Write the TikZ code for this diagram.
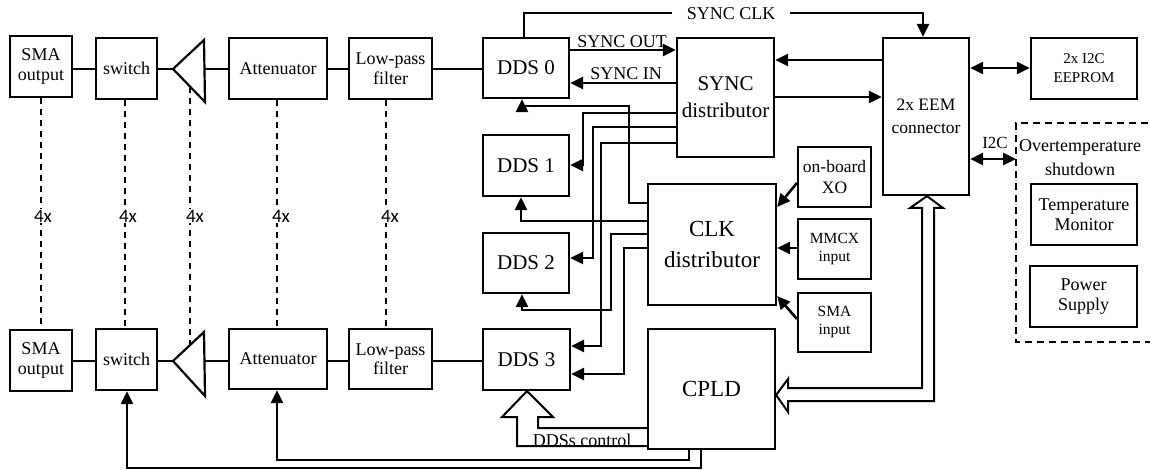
\documentclass[tikz,border=0pt]{standalone}
\usepackage{fontspec}
\setmainfont{Liberation Serif}
\newfontfamily\carlito{Carlito}
\usetikzlibrary{arrows.meta}
\newcommand\fsA{\fontsize{18}{19.5}\selectfont}
\newcommand\fsDDS{\fontsize{21}{25}\selectfont}
\newcommand\fsSync{\fontsize{21}{27}\selectfont}
\newcommand\fsBig{\fontsize{23}{31}\selectfont}
\newcommand\fsEEM{\fontsize{17.5}{23}\selectfont}
\newcommand\fsSmall{\fontsize{15}{19}\selectfont}
\newcommand\fsIn{\fontsize{15.5}{18}\selectfont}
\newcommand\fsXO{\fontsize{17.5}{21}\selectfont}
\newcommand\fsOT{\fontsize{18}{24}\selectfont}
\newcommand\fsTM{\fontsize{18}{20}\selectfont}
\newcommand\fsFour{\carlito\fontsize{19}{21}\selectfont}
\begin{document}
\begin{tikzpicture}[x=1pt,y=-1pt,
  box/.style={draw, line width=2.2pt, inner sep=0pt, align=center, fill=white},
  wire/.style={line width=2.6pt},
  arr/.style={wire, -{Triangle[length=13pt,width=12pt]}},
  darr/.style={wire, {Triangle[length=13pt,width=12pt]}-{Triangle[length=13pt,width=12pt]}},
  bus/.style={line width=2pt, fill=white, line join=miter},
  rep/.style={line width=2.2pt, dash pattern=on 6pt off 5pt},
  lbl/.style={inner sep=1pt, font=\fsA},
  four/.style={fill=white, inner sep=1pt, font=\fsFour}
]
\useasboundingbox (0,0) rectangle (1150,470);

% ---------- top RF chain ----------
\node[box, minimum width=62pt, minimum height=61pt, font=\fsA] (smaT) at (41,66.5) {SMA\\output};
\node[box, minimum width=61pt, minimum height=61pt, font=\fsA] (swT) at (126.5,68.5) {switch};
\coordinate (ampTtip) at (173,69);
\coordinate (ampTback) at (204.5,69);
\draw[line width=2.2pt] (ampTtip) -- (204,40) -- (205,102) -- cycle;
\node[box, minimum width=98pt, minimum height=61pt, font=\fsA] (attT) at (278,68.5) {Attenuator};
\node[box, minimum width=83pt, minimum height=61pt, font=\fsA] (lpfT) at (390.5,68.5) {Low-pass\\filter};

% ---------- bottom RF chain ----------
\node[box, minimum width=62pt, minimum height=61pt, font=\fsA] (smaB) at (41,360.5) {SMA\\output};
\node[box, minimum width=61pt, minimum height=61pt, font=\fsA] (swB) at (126.5,359.5) {switch};
\coordinate (ampBtip) at (173,361);
\coordinate (ampBback) at (204.5,361);
\draw[line width=2.2pt] (ampBtip) -- (204,332) -- (205,396) -- cycle;
\node[box, minimum width=98pt, minimum height=60pt, font=\fsA] (attB) at (278,359) {Attenuator};
\node[box, minimum width=83pt, minimum height=60pt, font=\fsA] (lpfB) at (390.5,359) {Low-pass\\filter};

% ---------- DDS ----------
\node[box, minimum width=86pt, minimum height=60pt, font=\fsDDS] (dds0) at (526,68) {DDS 0};
\node[box, minimum width=86pt, minimum height=61pt, font=\fsDDS] (dds1) at (526,165.5) {DDS 1};
\node[box, minimum width=86pt, minimum height=60pt, font=\fsDDS] (dds2) at (526,263) {DDS 2};
\node[box, minimum width=87pt, minimum height=61pt, font=\fsDDS] (dds3) at (526.5,359.5) {DDS 3};

% ---------- distributors etc ----------
\node[box, minimum width=97pt, minimum height=119pt, font=\fsSync] (sync) at (725.5,97.5) {SYNC\\distributor};
\node[box, minimum width=128pt, minimum height=121pt, font=\fsBig] (clk) at (712,244.5) {CLK\\distributor};
\node[box, minimum width=127pt, minimum height=120pt, font=\fsBig] (cpld) at (711.5,389) {CPLD};
\node[box, minimum width=73pt, minimum height=60pt, font=\fsXO] (xo) at (834.5,177) {on-board\\XO};
\node[box, minimum width=73pt, minimum height=60pt, font=\fsIn] (mmcx) at (834.5,249) {MMCX\\input};
\node[box, minimum width=73pt, minimum height=59pt, font=\fsIn] (smain) at (834.5,322.5) {SMA\\input};
\node[box, minimum width=86pt, minimum height=157pt, font=\fsEEM] (eem) at (926,116.5) {2x EEM\\connector};
\node[box, minimum width=106pt, minimum height=61pt, font=\fsSmall] (eeprom) at (1084,68.5) {2x I2C\\EEPROM};

% ---------- overtemperature group ----------
\draw[line width=2.2pt, dash pattern=on 7pt off 5pt] (1160,123) -- (1016,123) -- (1016,342) -- (1160,342);
\coordinate (ot) at (1016,159);
\node[font=\fsOT, align=center, inner sep=0pt] (otlbl) at (1080,158) {Overtemperature\\shutdown};
\node[box, minimum width=106pt, minimum height=61pt, font=\fsTM] (temp) at (1084,214.5) {Temperature\\Monitor};
\node[box, minimum width=107pt, minimum height=61pt, font=\fsTM] (power) at (1083.5,296.5) {Power\\Supply};

% ---------- RF chain wires ----------
\foreach \yy/\s/\w/\at/\ab/\a/\l/\d in {69/smaT/swT/ampTtip/ampTback/attT/lpfT/dds0, 361/smaB/swB/ampBtip/ampBback/attB/lpfB/dds3}{
  \draw[wire] (\s.east |- 0,\yy) -- (\w.west |- 0,\yy);
  \draw[wire] (\w.east |- 0,\yy) -- (\at);
  \draw[wire] (\ab) -- (\a.west |- 0,\yy);
  \draw[wire] (\a.east |- 0,\yy) -- (\l.west |- 0,\yy);
  \draw[wire] (\l.east |- 0,\yy) -- (\d.west |- 0,\yy);
}

% ---------- 4x repetition lines ----------
\draw[rep] (smaT.south -| 41,0) -- (smaB.north -| 41,0);
\draw[rep] (swT.south -| 125,0) -- (swB.north -| 125,0);
\draw[rep] (190,87) -- (190,345);
\draw[rep] (attT.south -| 277,0) -- (attB.north -| 277,0);
\draw[rep] (lpfT.south -| 386,0) -- (lpfB.north -| 386,0);
\node[four] (f1) at (43,216) {4x};
\node[four] (f2) at (128,216) {4x};
\node[four] (f3) at (195,216) {4x};
\node[four] (f4) at (281,216) {4x};
\node[four] (f5) at (390,216) {4x};

% ---------- sync signals ----------
\draw[arr] (dds0.north -| 524,0) -- (524,13) -- (923,13) -- (eem.north -| 923,0);
\node[lbl, fill=white, inner xsep=15pt] (syncclk) at (731,14) {SYNC CLK};
\draw[arr] (dds0.east |- 0,50) -- (sync.west |- 0,50);
\node[lbl] (syncout) at (622,42) {SYNC OUT};
\draw[arr] (sync.west |- 0,83) -- (dds0.east |- 0,83);
\node[lbl] (syncin) at (626,74) {SYNC IN};
\draw[arr] (eem.west |- 0,60) -- (sync.east |- 0,60);
\draw[arr] (sync.east |- 0,97) -- (eem.west |- 0,97);
\draw[darr] (eem.east |- 0,68) -- (eeprom.west |- 0,68);
\draw[darr] (eem.east |- 0,159) -- (ot);
\node[lbl, font=\fontsize{17}{19}\selectfont] (i2c) at (995,143) {I2C};

% SYNC distributor -> DDS1..3
\draw[arr] (sync.west |- 0,113) -- (583,113) -- (583,165) -- (dds1.east |- 0,165);
\draw[arr] (sync.west |- 0,127) -- (593,127) -- (593,258) -- (dds2.east |- 0,258);
\draw[arr] (sync.west |- 0,143) -- (601,143) -- (601,346) -- (dds3.east |- 0,346);

% CLK distributor -> DDS0..3
\draw[arr] (clk.west |- 0,203) -- (629,203) -- (629,106) -- (522,106) -- (dds0.south -| 522,0);
\draw[arr] (clk.west |- 0,221) -- (521,221) -- (dds1.south -| 521,0);
\draw[arr] (clk.west |- 0,234) -- (611,234) -- (611,310) -- (522,310) -- (dds2.south -| 522,0);
\draw[arr] (clk.west |- 0,248) -- (624,248) -- (624,374) -- (dds3.east |- 0,374);

% clock sources
\draw[arr] (xo.west |- 0,183) -- (clk.east |- 0,207);
\draw[arr] (mmcx.west |- 0,248) -- (clk.east |- 0,248);
\draw[arr] (smain.west |- 0,319) -- (clk.east |- 0,296);

% CPLD controls
\draw[arr] (cpld.south -| 689,0) -- (689,460) -- (277,460) -- (attB.south -| 277,0);
\draw[arr] (cpld.south -| 701,0) -- (701,468) -- (127,468) -- (swB.south -| 127,0);

% DDSs control bus
\draw[bus] (cpld.west |- 0,428) -- (538,428) -- (538,417) -- (553,417) -- (dds3.south -| 527,0) -- (502,417) -- (517,417) -- (517,446) -- (cpld.west |- 0,446);
\node[lbl, anchor=base] (ddsctl) at (582,446) {DDSs control};

% EEM <-> CPLD bus
\draw[bus] (934,208) -- (943,208) -- (eem.south -| 927,0) -- (910,208) -- (922,208) -- (922,388) -- (788,388) -- (788,379) -- (cpld.east |- 0,395) -- (788,412) -- (788,401) -- (934,401) -- cycle;
\end{tikzpicture}
\end{document}
